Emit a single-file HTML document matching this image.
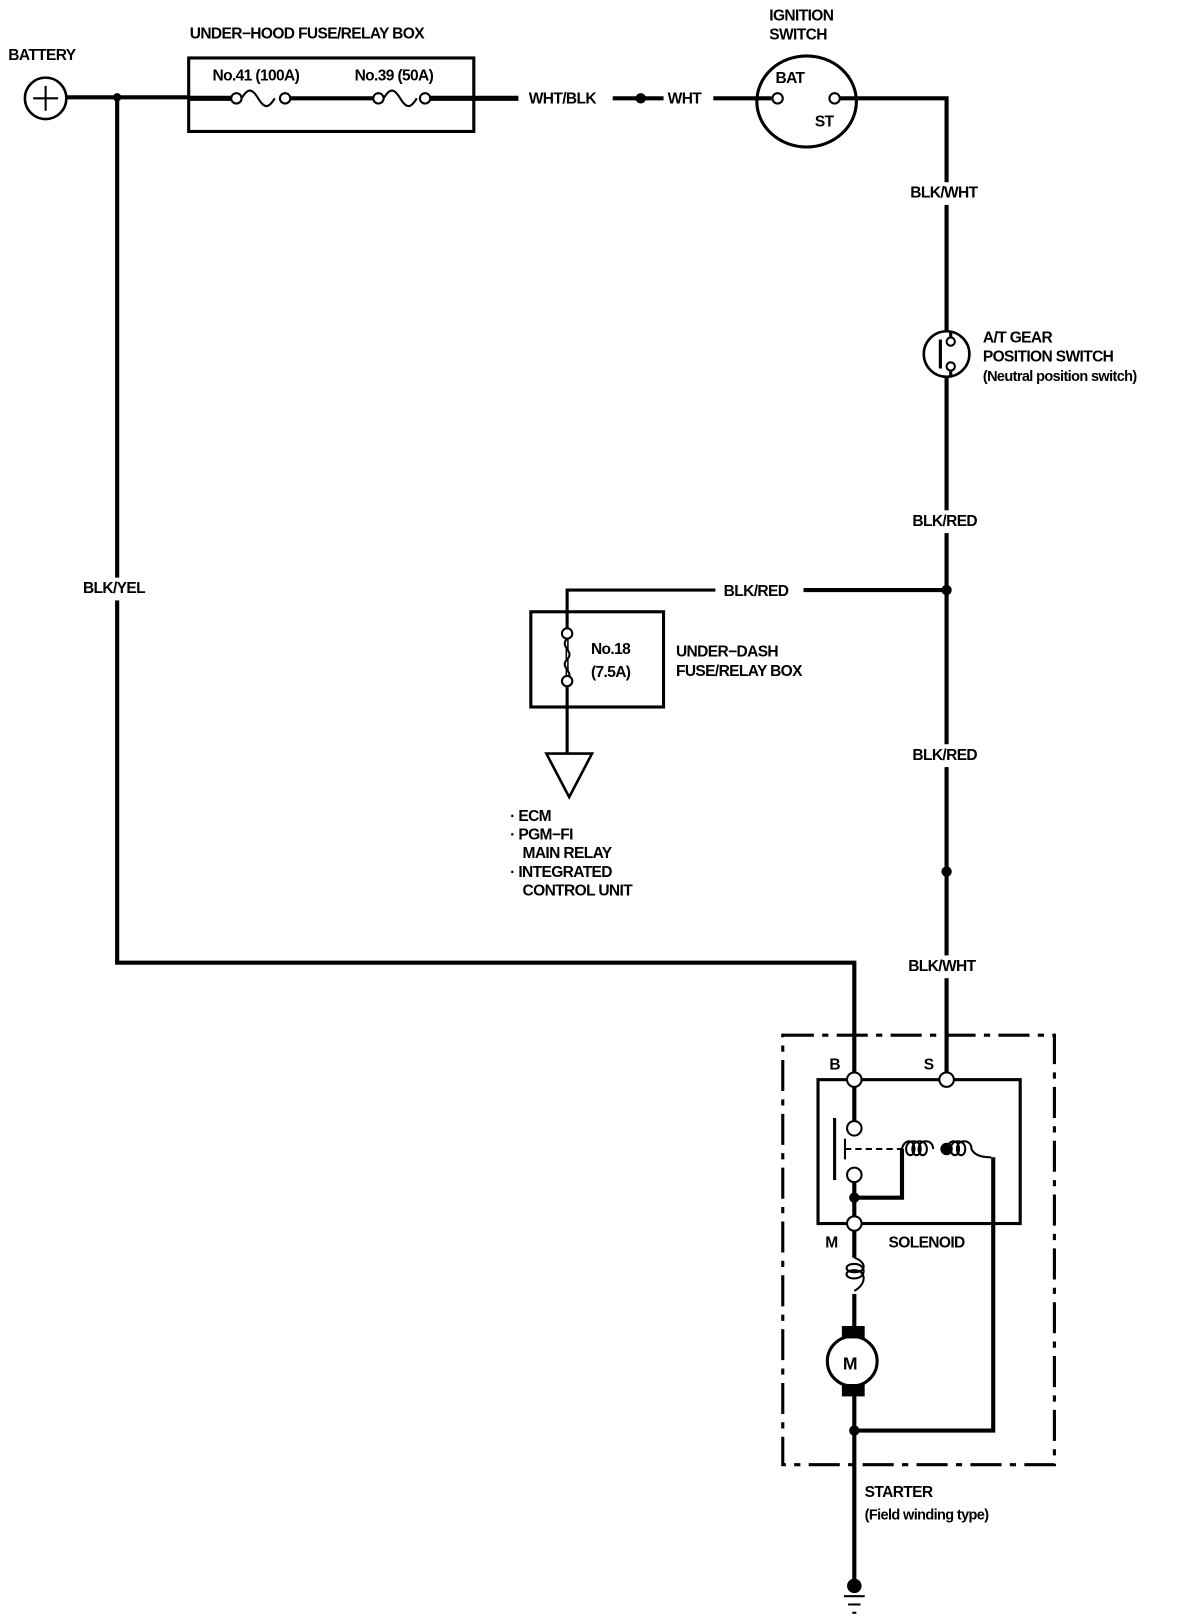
<!DOCTYPE html>
<html><head><meta charset="utf-8"><style>
html,body{margin:0;padding:0;background:#fff}
svg{display:block}
text{font-family:"Liberation Sans",sans-serif;font-weight:bold;font-size:15px;fill:#000;letter-spacing:-0.6px}
</style></head><body>
<svg width="1184" height="1620" viewBox="0 0 1142 1565" preserveAspectRatio="none" xmlns="http://www.w3.org/2000/svg">
<g fill="none" stroke="#000" stroke-width="3">
<circle cx="44" cy="95" r="20" stroke-width="2.5"/>
<line x1="32" y1="95" x2="56" y2="95" stroke-width="2"/><line x1="44" y1="83" x2="44" y2="107" stroke-width="2"/>
<line x1="64" y1="94" x2="182" y2="94" stroke-width="4"/>
<polyline points="113,94 113,930 824,930 824,1043" stroke-width="4"/>
<rect x="182" y="56" width="275" height="71" stroke-width="3"/>
<line x1="182" y1="95" x2="224" y2="95" stroke-width="5"/>
<path d="M233,95 c6,-10 10,-10 16,0 c6,10 10,10 16,0" stroke-width="2"/>
<line x1="280" y1="95" x2="360" y2="95" stroke-width="4"/>
<path d="M370,95 c6,-10 10,-10 16,0 c6,10 10,10 16,0" stroke-width="2"/>
<line x1="415" y1="95" x2="500" y2="95" stroke-width="5"/>
<circle cx="228" cy="95" r="5" stroke-width="2" fill="#fff"/><circle cx="275" cy="95" r="5" stroke-width="2" fill="#fff"/>
<circle cx="365" cy="95" r="5" stroke-width="2" fill="#fff"/><circle cx="410" cy="95" r="5" stroke-width="2" fill="#fff"/>
<line x1="591" y1="95" x2="640" y2="95" stroke-width="4"/>
<line x1="688" y1="95" x2="744" y2="95" stroke-width="4"/>
<ellipse cx="778" cy="98" rx="48" ry="44" stroke-width="3"/>
<circle cx="750" cy="95" r="5" stroke-width="2" fill="#fff"/><circle cx="805" cy="95" r="5" stroke-width="2" fill="#fff"/>
<polyline points="810,95 913,95 913,1036" stroke-width="4"/>
<circle cx="913" cy="342" r="22" stroke-width="2.5" fill="#fff"/>
<line x1="907" y1="328" x2="907" y2="356" stroke-width="3"/>
<circle cx="917" cy="330" r="4" stroke-width="2"/><circle cx="917" cy="354" r="4" stroke-width="2"/>
<line x1="917" y1="320" x2="917" y2="326" stroke-width="3"/><line x1="917" y1="358" x2="917" y2="364" stroke-width="3"/>
<polyline points="690,570 547,570 547,728" stroke-width="3"/>
<line x1="775" y1="570" x2="913" y2="570" stroke-width="4"/>
<rect x="512" y="591" width="128" height="92" stroke-width="3"/>
<path d="M547,617 c-8,8 8,12 0,20 c-8,8 8,12 0,20" stroke-width="2" fill="#fff"/>
<circle cx="547" cy="612" r="5" stroke-width="2" fill="#fff"/><circle cx="547" cy="658" r="5" stroke-width="2" fill="#fff"/>
<polygon points="527,728 571,728 549,770" stroke-width="2.5"/>
<rect x="755" y="1000" width="262" height="415" stroke-width="3" stroke-dasharray="30,8,6,8"/>
<rect x="789" y="1043" width="195" height="139" stroke-width="3"/>
<line x1="824" y1="1043" x2="824" y2="1084" stroke-width="4"/>
<line x1="805" y1="1080" x2="805" y2="1140" stroke-width="3"/>
<line x1="815" y1="1100" x2="815" y2="1120" stroke-width="2"/>
<line x1="815" y1="1110" x2="870" y2="1110" stroke-width="2" stroke-dasharray="6,4"/>
<polyline points="870,1110 870,1157 824,1157" stroke-width="4"/>
<path d="M870,1110 c2,-10 12,-10 12,0 c0,8 -8,8 -8,0 c0,-10 14,-10 14,0 c0,8 -8,8 -8,0 c0,-10 14,-10 14,0 c0,8 -8,8 -8,0 c0,-10 14,-10 14,0" stroke-width="2"/>
<path d="M913,1110 c2,-10 12,-10 12,0 c0,8 -8,8 -8,0 c0,-10 14,-10 14,0 c0,8 -8,8 -8,0 c0,-10 14,-10 14,0 c2,4 6,8 19,8" stroke-width="2"/>
<polyline points="958,1118 958,1382 824,1382" stroke-width="4"/>
<line x1="824" y1="1140" x2="824" y2="1215" stroke-width="4"/>
<path d="M824,1215 c12,4 12,14 0,14 c-10,0 -10,-8 0,-8 c12,0 12,14 0,14 c-10,0 -10,-8 0,-8 c12,0 12,14 0,20" stroke-width="2"/>
<line x1="824" y1="1250" x2="824" y2="1285" stroke-width="4"/>
<circle cx="822" cy="1315" r="24" stroke-width="3"/>
<line x1="824" y1="1345" x2="824" y2="1530" stroke-width="4"/>
<line x1="814" y1="1542" x2="834" y2="1542" stroke-width="2"/>
<line x1="818" y1="1550" x2="830" y2="1550" stroke-width="2"/>
<line x1="822" y1="1558" x2="826" y2="1558" stroke-width="2"/>
<circle cx="824" cy="1043" r="7" stroke-width="2" fill="#fff"/>
<circle cx="913" cy="1043" r="7" stroke-width="2" fill="#fff"/>
<circle cx="824" cy="1182" r="7" stroke-width="2" fill="#fff"/>
<circle cx="824" cy="1090" r="7" stroke-width="2" fill="#fff"/>
<circle cx="824" cy="1135" r="7" stroke-width="2" fill="#fff"/>
</g>
<g fill="#000">
<circle cx="113" cy="94" r="4"/><circle cx="618" cy="95" r="5"/>
<circle cx="913" cy="570" r="5"/><circle cx="913" cy="842" r="5"/>
<circle cx="913" cy="1110" r="6"/><circle cx="824" cy="1157" r="5"/>
<circle cx="824" cy="1382" r="5"/><circle cx="824" cy="1532" r="7"/>
<rect x="812" y="1281" width="22" height="12"/><rect x="812" y="1337" width="22" height="12"/>
</g>
<g fill="#fff">
<rect x="76" y="558" width="70" height="22"/>
<rect x="874" y="176" width="80" height="22"/>
<rect x="876" y="493" width="76" height="22"/>
<rect x="876" y="719" width="76" height="22"/>
<rect x="872" y="923" width="80" height="22"/>
</g>
<text x="8" y="58">BATTERY</text>
<text x="183" y="37">UNDER−HOOD FUSE/RELAY BOX</text>
<text x="205" y="78">No.41 (100A)</text>
<text x="342" y="78">No.39 (50A)</text>
<text x="510" y="100">WHT/BLK</text>
<text x="644" y="100">WHT</text>
<text x="742" y="20">IGNITION</text>
<text x="742" y="38">SWITCH</text>
<text x="748" y="80">BAT</text>
<text x="786" y="122">ST</text>
<text x="878" y="191">BLK/WHT</text>
<text x="948" y="331">A/T GEAR</text>
<text x="948" y="349">POSITION SWITCH</text>
<text x="948" y="368" style="font-size:14px">(Neutral position switch)</text>
<text x="880" y="508">BLK/RED</text>
<text x="698" y="576">BLK/RED</text>
<text x="80" y="573">BLK/YEL</text>
<text x="570" y="632">No.18</text>
<text x="570" y="654">(7.5A)</text>
<text x="652" y="634">UNDER−DASH</text>
<text x="652" y="653">FUSE/RELAY BOX</text>
<text x="492" y="793">· ECM</text>
<text x="492" y="811">· PGM−FI</text>
<text x="504" y="829">MAIN RELAY</text>
<text x="492" y="847">· INTEGRATED</text>
<text x="504" y="865">CONTROL UNIT</text>
<text x="880" y="734">BLK/RED</text>
<text x="876" y="938">BLK/WHT</text>
<text x="800" y="1033">B</text>
<text x="891" y="1033">S</text>
<text x="796" y="1205">M</text>
<text x="857" y="1205">SOLENOID</text>
<text x="813" y="1323" style="font-size:17px">M</text>
<text x="834" y="1446">STARTER</text>
<text x="834" y="1468" style="font-size:14px">(Field winding type)</text>
</svg>
</body></html>
